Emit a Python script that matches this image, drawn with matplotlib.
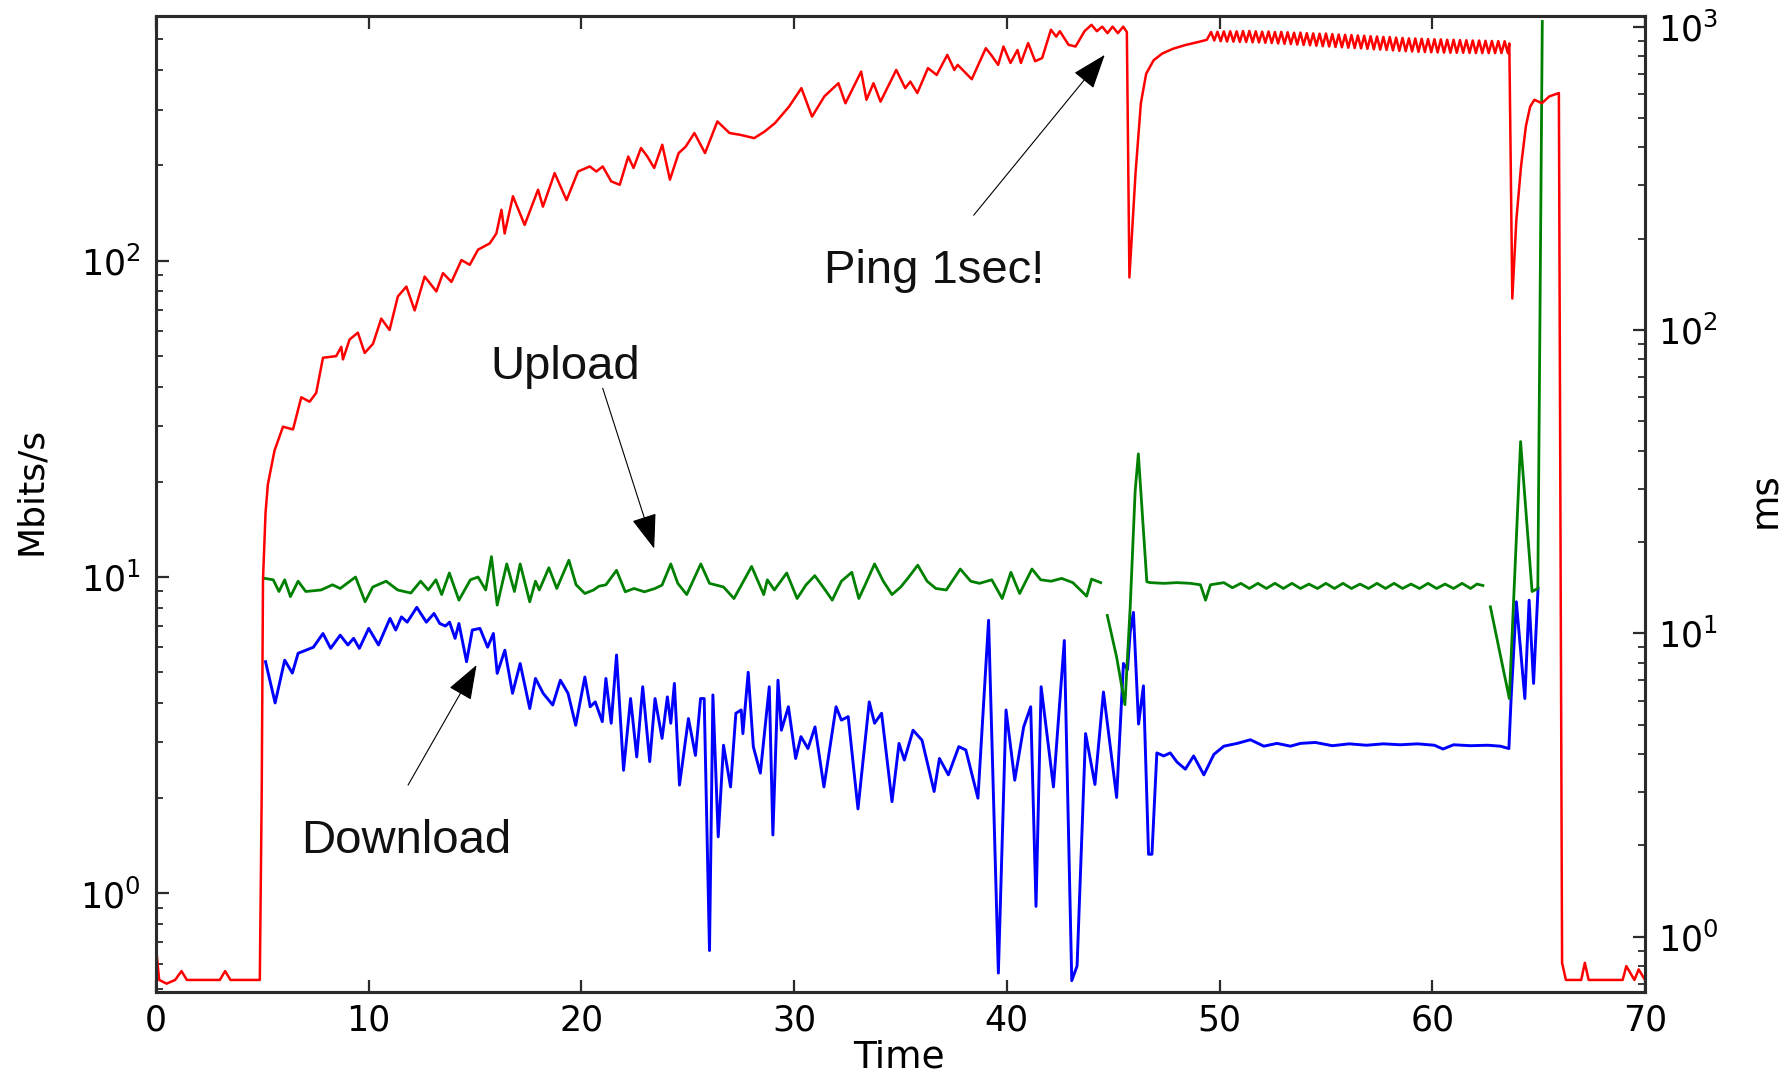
import numpy as np
import matplotlib.pyplot as plt

# ping round-trip time in ms (right axis)
ping_t = [0.0, 0.15, 0.5, 0.9, 1.2, 1.45, 3.0, 3.25, 3.5, 4.88,
          4.97, 5.03, 5.15, 5.26, 5.57, 5.97, 6.44, 6.83, 7.22, 7.53,
          7.85, 8.47, 8.71, 8.79, 9.1, 9.49, 9.81, 10.2, 10.59, 10.98,
          11.37, 11.77, 12.16, 12.63, 13.18, 13.49, 13.89, 14.36, 14.75, 15.14,
          15.69, 16.0, 16.24, 16.39, 16.78, 17.33, 17.96, 18.19, 18.74, 19.3,
          19.84, 20.39, 20.7, 21.0, 21.4, 21.8, 22.2, 22.45, 22.8, 23.1,
          23.42, 23.8, 24.16, 24.57, 24.9, 25.31, 25.81, 26.39, 26.96, 27.46,
          28.12, 28.61, 29.1, 29.76, 30.34, 30.84, 31.42, 32.08, 32.41, 33.15,
          33.4, 33.73, 34.06, 34.8, 35.22, 35.46, 35.79, 36.29, 36.7, 37.2,
          37.53, 37.69, 38.35, 39.01, 39.26, 39.59, 39.84, 40.17, 40.5, 40.66,
          41.0, 41.33, 41.66, 42.07, 42.32, 42.49, 42.9, 43.23, 43.65, 43.98,
          44.23, 44.48, 44.73, 44.97, 45.22, 45.47, 45.64, 45.76, 46.05, 46.3,
          46.55, 46.9, 47.3, 47.8, 48.4, 49.0, 49.4]
ping_ms = [0.92, 0.72, 0.70, 0.72, 0.77, 0.72, 0.72, 0.77, 0.72, 0.72,
           3.0, 15, 25, 31, 40, 48, 47, 60, 58, 62,
           81, 82, 88, 80, 93, 98, 84, 90, 109, 100,
           129, 139, 116, 150, 134, 154, 144, 170, 164, 184,
           193, 208, 249, 208, 276, 222, 290, 255, 329, 268,
           333, 346, 333, 346, 309, 301, 373, 342, 398, 373,
           342, 408, 313, 383, 402, 446, 383, 487, 446, 440,
           429, 451, 481, 545, 627, 505, 589, 651, 559, 711,
           574, 651, 566, 720, 627, 659, 604, 730, 693, 807,
           720, 748, 671, 849, 807, 748, 860, 759, 838, 759,
           883, 769, 788, 977, 927, 966, 871, 860, 966, 1014,
           966, 1000, 952, 1000, 952, 1000, 960, 149, 330, 560,
           700, 775, 815, 845, 870, 890, 905]

# ripple on the saturated ping, one sample every 0.15 s from 49.6 s
ripple_ms = [960, 900, 962, 895, 965, 893, 966, 892, 965, 890,
             967, 890, 968, 888, 965, 887, 963, 885, 964, 883,
             960, 880, 961, 878, 958, 876, 955, 873, 956, 870,
             952, 868, 950, 865, 948, 862, 949, 860, 945, 857,
             942, 855, 940, 852, 938, 850, 935, 848, 933, 845,
             930, 842, 928, 840, 925, 838, 924, 835, 920, 832,
             918, 830, 915, 828, 914, 826, 912, 825, 910, 823,
             909, 822, 908, 821, 905, 820, 905, 820, 903, 820,
             902, 819, 900, 818, 900, 818, 898, 818, 897, 818,
             896, 818, 895, 818]
ping_end_t = [63.62, 63.76, 63.95, 64.17, 64.4, 64.6, 64.8, 65.15, 65.5, 65.95,
              66.1, 66.28, 67.0, 67.17, 67.35, 68.95, 69.12, 69.5, 69.7, 70.0]
ping_end_ms = [880, 127, 230, 346, 470, 545, 574, 559, 589, 604,
               0.82, 0.72, 0.72, 0.82, 0.72, 0.72, 0.80, 0.72, 0.78, 0.72]

# download throughput, Mbit/s
down_t = [5.15, 5.6, 6.05, 6.41, 6.68, 7.4, 7.85, 8.21, 8.66, 9.02,
          9.29, 9.56, 10.0, 10.46, 11.0, 11.27, 11.54, 11.81, 12.26, 12.71,
          13.07, 13.34, 13.61, 13.8, 14.06, 14.24, 14.6, 14.87, 15.23, 15.59,
          15.86, 16.04, 16.4, 16.76, 17.12, 17.57, 17.84, 18.2, 18.65, 19.01,
          19.37, 19.73, 20.16, 20.41, 20.65, 20.98, 21.15, 21.4, 21.65, 21.98,
          22.31, 22.6, 22.88, 23.21, 23.46, 23.79, 24.04, 24.2, 24.37, 24.61,
          25.03, 25.36, 25.6, 25.77, 26.02, 26.18, 26.43, 26.68, 27.01, 27.26,
          27.51, 27.59, 27.84, 28.08, 28.41, 28.83, 29.0, 29.24, 29.4, 29.73,
          30.07, 30.32, 30.65, 30.98, 31.4, 31.97, 32.22, 32.54, 33.0, 33.53,
          33.78, 34.11, 34.6, 34.93, 35.18, 35.59, 36.01, 36.58, 36.83, 37.25,
          37.74, 38.07, 38.64, 39.14, 39.6, 39.96, 40.37, 40.79, 41.12, 41.37,
          41.61, 42.19, 42.7, 43.05, 43.3, 43.7, 44.14, 44.54, 45.16, 45.48,
          45.67, 45.8, 45.95, 46.19, 46.42, 46.66, 46.82, 47.05, 47.37, 47.68,
          48.0, 48.39, 48.78, 49.26, 49.73, 50.2, 50.83, 51.45, 52.08, 52.7,
          53.33, 53.8, 54.5, 55.3, 56.1, 56.9, 57.7, 58.5, 59.3, 60.1,
          60.5, 61.0, 61.8, 62.6, 63.2, 63.6, 63.7, 63.95, 64.35, 64.55,
          64.76, 64.97]
down_mbit = [5.4, 4.0, 5.46, 4.97, 5.74, 6.0, 6.63, 5.95, 6.55, 6.1,
             6.4, 5.95, 6.88, 6.1, 7.4, 6.8, 7.48, 7.2, 8.02, 7.2,
             7.67, 7.13, 7.0, 7.2, 6.4, 7.13, 5.4, 6.8, 6.88, 6.0,
             6.63, 4.96, 5.87, 4.29, 5.33, 3.84, 4.78, 4.29, 3.94, 4.72,
             4.29, 3.4, 4.83, 3.89, 4.03, 3.49, 4.78, 3.45, 5.67, 2.45,
             4.13, 2.7, 4.5, 2.61, 4.13, 3.09, 4.18, 3.45, 4.61, 2.2,
             3.57, 2.73, 4.13, 4.13, 0.66, 4.24, 1.51, 2.94, 2.17, 3.71,
             3.8, 3.2, 5.0, 2.91, 2.4, 4.5, 1.53, 4.72, 3.28, 3.89,
             2.67, 3.13, 2.87, 3.36, 2.17, 3.89, 3.53, 3.62, 1.85, 4.03,
             3.45, 3.71, 1.95, 2.98, 2.64, 3.28, 3.05, 2.1, 2.67, 2.37,
             2.91, 2.84, 2.0, 7.3, 0.56, 3.8, 2.28, 3.36, 3.89, 0.91,
             4.5, 2.17, 6.3, 0.53, 0.59, 3.2, 2.21, 4.33, 2.01, 5.33,
             5.1, 6.73, 7.73, 3.43, 4.53, 1.33, 1.33, 2.78, 2.72, 2.78,
             2.6, 2.47, 2.72, 2.37, 2.75, 2.92, 2.98, 3.06, 2.92, 2.98,
             2.92, 2.98, 3.0, 2.93, 2.97, 2.94, 2.97, 2.95, 2.97, 2.94,
             2.86, 2.95, 2.93, 2.94, 2.92, 2.87, 4.08, 8.35, 4.13, 8.45,
             4.61, 9.2]

# upload throughput, Mbit/s (nan marks the gaps in the log)
up_t = [5.12, 5.51, 5.78, 6.05, 6.32, 6.68, 7.04, 7.76, 8.3, 8.66,
        9.38, 9.83, 10.19, 10.82, 11.36, 11.98, 12.44, 12.8, 13.16, 13.43,
        13.79, 14.24, 14.78, 15.14, 15.5, 15.77, 16.04, 16.49, 16.85, 17.12,
        17.57, 17.84, 18.02, 18.47, 18.84, 19.41, 19.75, 20.16, 20.57, 20.82,
        21.15, 21.65, 22.06, 22.47, 22.96, 23.46, 23.79, 24.2, 24.53, 24.95,
        25.61, 26.02, 26.68, 27.17, 28.0, 28.57, 28.74, 29.07, 29.65, 30.14,
        30.55, 30.97, 31.46, 31.79, 32.22, 32.71, 33.04, 33.37, 33.78, 34.19,
        34.6, 35.01, 35.34, 35.81, 36.25, 36.66, 37.15, 37.81, 38.3, 38.71,
        39.29, 39.78, 40.19, 40.6, 41.18, 41.59, 42.08, 42.58, 43.1, 43.75,
        43.98, 44.41, 44.55,
        44.72, 45.16, 45.55, 45.8, 46.03, 46.18, 46.58, 46.74, 47.37, 48.0,
        48.63, 49.1, 49.34, 49.57, 50.2, 50.6, 51.0, 51.4, 51.8, 52.2,
        52.6, 53.0, 53.4, 53.8, 54.2, 54.6, 55.0, 55.4, 55.8, 56.2,
        56.6, 57.0, 57.4, 57.8, 58.2, 58.6, 59.0, 59.4, 59.8, 60.2,
        60.6, 61.0, 61.4, 61.8, 62.1, 62.38, 62.55,
        62.73, 63.62, 64.15, 64.69, 64.96, 65.17]
up_mbit = [9.9, 9.8, 9.0, 9.8, 8.67, 9.7, 9.0, 9.1, 9.45, 9.2,
           10.0, 8.35, 9.3, 9.7, 9.1, 8.9, 9.7, 9.1, 9.8, 8.8,
           10.3, 8.45, 9.8, 10.0, 9.1, 11.6, 8.15, 11.0, 9.0, 11.0,
           8.35, 9.7, 9.1, 10.7, 9.2, 11.3, 9.45, 8.87, 9.1, 9.35,
           9.45, 10.5, 8.98, 9.2, 8.98, 9.2, 9.43, 11.0, 9.55, 8.8,
           11.0, 9.55, 9.3, 8.55, 10.8, 8.8, 9.8, 9.1, 10.3, 8.55,
           9.43, 10.1, 9.1, 8.45, 9.7, 10.35, 8.55, 9.55, 11.0, 9.7,
           8.8, 9.3, 9.9, 10.9, 9.7, 9.2, 9.1, 10.6, 9.7, 9.55,
           9.8, 8.55, 10.35, 8.87, 10.6, 9.8, 9.7, 9.9, 9.6, 8.7,
           9.85, 9.6, np.nan,
           7.56, 5.58, 3.95, 8.1, 18.7, 24.5, 9.66, 9.6, 9.55, 9.6,
           9.55, 9.45, 8.45, 9.45, 9.6, 9.25, 9.55, 9.2, 9.55, 9.2,
           9.55, 9.2, 9.55, 9.2, 9.5, 9.2, 9.55, 9.2, 9.55, 9.2,
           9.5, 9.2, 9.55, 9.2, 9.55, 9.2, 9.5, 9.2, 9.55, 9.2,
           9.5, 9.2, 9.55, 9.2, 9.5, 9.4, np.nan,
           8.05, 4.13, 26.8, 9.0, 9.2, 570]

ripple_t = np.round(49.6 + 0.15 * np.arange(len(ripple_ms)), 2)
t_ping = np.concatenate([ping_t, ripple_t, ping_end_t])
v_ping = np.concatenate([ping_ms, ripple_ms, ping_end_ms])

spine_col = '#2b2b2b'
note_font = 'Liberation Sans'

fig = plt.figure(figsize=(17.91, 10.75), dpi=100)
ax = fig.add_axes([0.0871, 0.0772, 0.8314, 0.9079])
ax2 = ax.twinx()

ax.plot(down_t, down_mbit, color='#0000ff', lw=2.1)
ax.plot(up_t, up_mbit, color='#008000', lw=2.0)
ax2.plot(t_ping, v_ping, color='#ff0000', lw=1.8)

ax.set_xlim(0, 70)
ax.set_yscale('log')
ax2.set_yscale('log')
ax.set_ylim(0.488, 593)
ax2.set_ylim(0.657, 1084)
ax.set_xticks(range(0, 71, 10))

for a in (ax, ax2):
    for s in a.spines.values():
        s.set_linewidth(2.2)
        s.set_color(spine_col)

ax.tick_params(axis='x', which='major', direction='in', top=True, bottom=True,
               length=9, width=1.6, color=spine_col, labelsize=25, pad=8)
ax.tick_params(axis='y', which='major', direction='in', left=True, right=False,
               length=9, width=1.6, color=spine_col, labelsize=25, pad=11)
ax.tick_params(axis='y', which='minor', direction='in', left=True, right=False,
               length=5, width=1.3, color=spine_col)
ax2.tick_params(axis='y', which='major', direction='in', right=True, left=False,
                length=9, width=1.6, color=spine_col, labelsize=25, pad=9)
ax2.tick_params(axis='y', which='minor', direction='in', right=True, left=False,
                length=5, width=1.3, color=spine_col)

ax.set_xlabel('Time', fontsize=27, va='center')
ax.xaxis.set_label_coords(0.499, -0.067)
ax.set_ylabel('Mbits/s', fontsize=26, va='center')
ax.yaxis.set_label_coords(-0.084, 0.513)
ax2.set_ylabel('ms', fontsize=27, va='center')
ax2.yaxis.set_label_coords(1.081, 0.504)

arrow = dict(arrowstyle='-|>,head_length=1.1,head_width=0.4', mutation_scale=20,
             lw=0.8, color='black', shrinkA=0, shrinkB=0)

# notes: ping on the ms axis, download/upload on the Mbit/s axis
ax2.annotate('', xy=(44.6, 807), xytext=(38.44, 239), arrowprops=arrow, zorder=10)
ax2.text(36.58, 142.6, 'Ping 1sec!', fontsize=34, family=note_font,
         ha='center', va='baseline', color='#111111', zorder=10)

ax2.annotate('', xy=(23.42, 12.3), xytext=(21.0, 39.5), xycoords=ax.transData,
             textcoords=ax.transData, arrowprops=arrow, zorder=10)
ax2.text(19.22, 42.1, 'Upload', fontsize=34, family=note_font, transform=ax.transData,
         ha='center', va='baseline', color='#111111', zorder=10)

ax2.annotate('', xy=(15.07, 5.27), xytext=(11.85, 2.2), xycoords=ax.transData,
             textcoords=ax.transData, arrowprops=arrow, zorder=10)
ax2.text(11.76, 1.338, 'Download', fontsize=34, family=note_font, transform=ax.transData,
         ha='center', va='baseline', color='#111111', zorder=10)

fig.savefig('out.png', dpi=100)
